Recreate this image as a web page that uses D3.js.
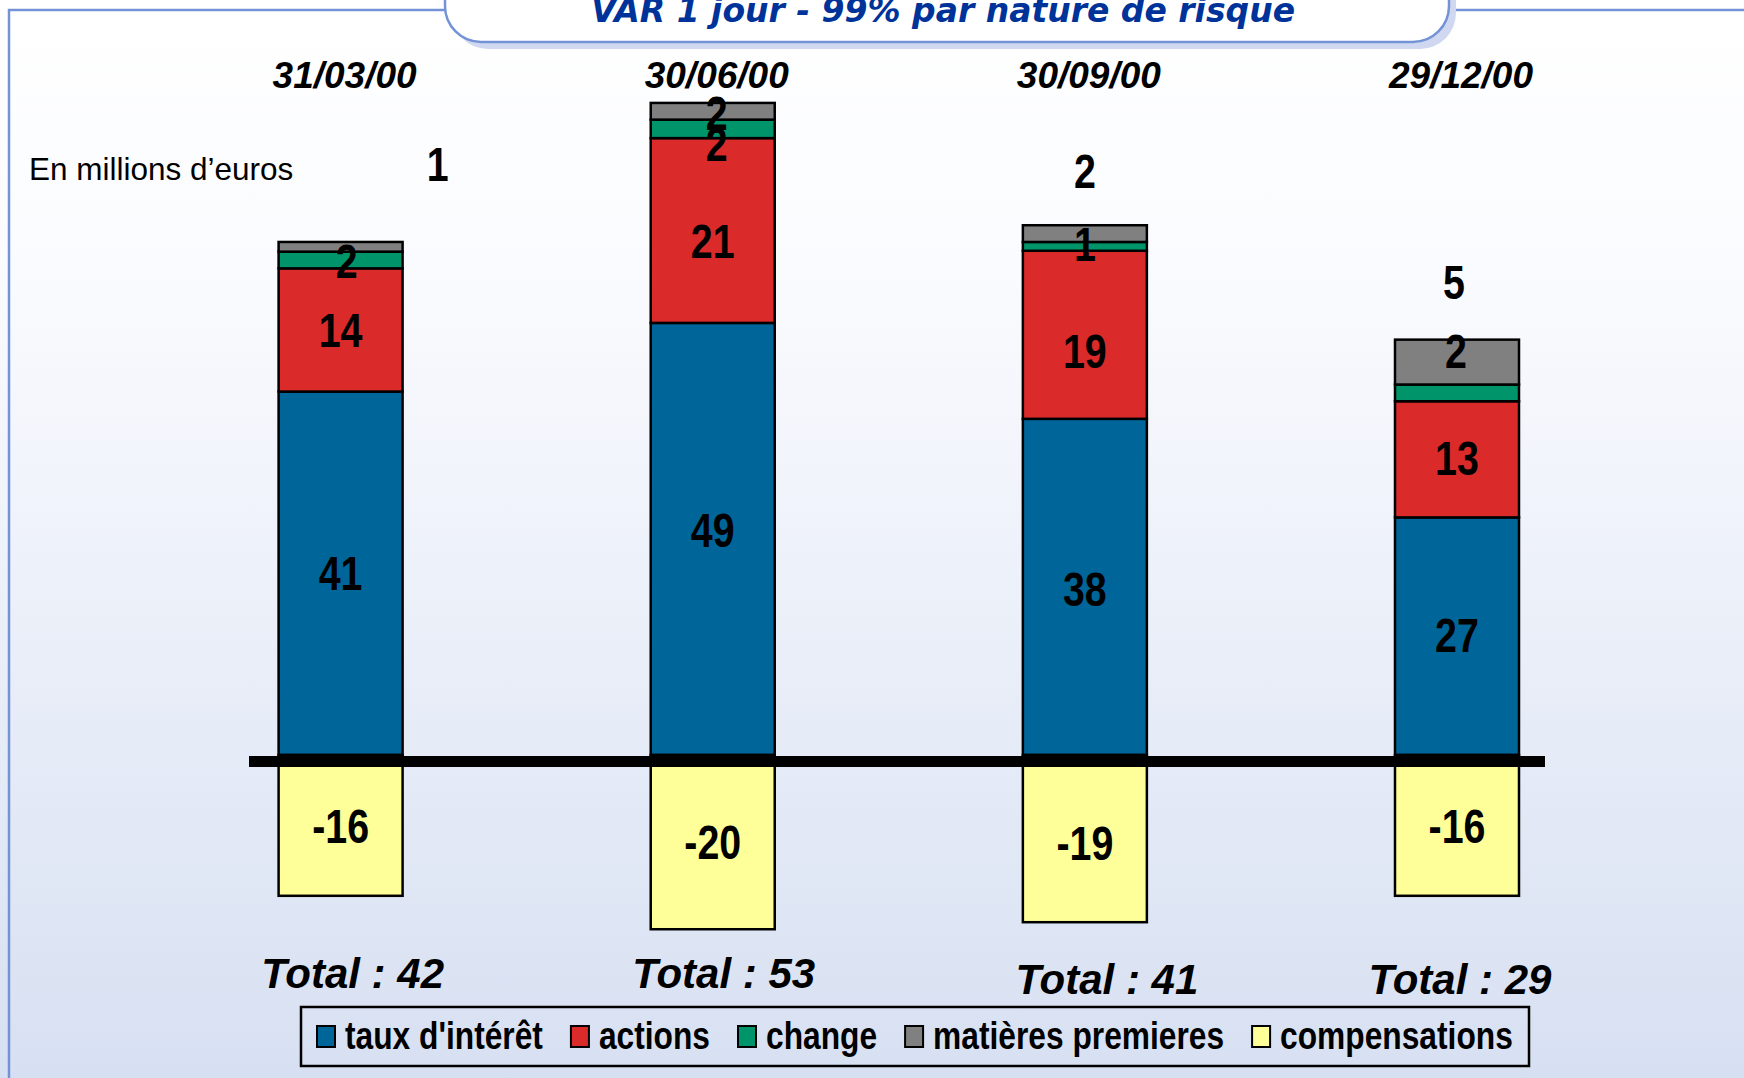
<!DOCTYPE html>
<html>
<head>
<meta charset="utf-8">
<script src="https://cdn.jsdelivr.net/npm/d3@7"></script>
<style>
  body { margin: 0; padding: 0; overflow: hidden; }
  #container { width: 1744px; height: 1078px; }
</style>
</head>
<body>
<div id="container"></div>
<script>
// VAR 1 jour - 99% par nature de risque (values in millions of euros)
let dates = ["31/03/00", "30/06/00", "30/09/00", "29/12/00"];
let tauxInteret = [41.3, 49.1, 38.2, 27.0];
let actions = [14.0, 21.0, 19.1, 13.2];
let change = [1.9, 2.1, 1.0, 1.9];
let matieres = [1.1, 1.9, 1.9, 5.1];
let compensations = [-16.0, -19.8, -19.0, -16.0];
let totals = [42, 53, 41, 29];
let seriesNames = ["taux d'intérêt", "actions", "change", "matières premieres", "compensations"];
let seriesColors = ["#006699", "#da2a2a", "#00946a", "#808080", "#ffff99"];

let w = 1744;
let h = 1078;
let narrow = 0.82; // no Arial Narrow installed, squeeze Liberation Sans instead
let narrowFont = "'Liberation Sans', Arial, sans-serif";

let viz = d3.select("#container")
  .append("svg")
    .attr("width", w)
    .attr("height", h)
;

// background gradient
let defs = viz.append("defs");
let grad = defs.append("linearGradient")
    .attr("id", "bg")
    .attr("x1", 0).attr("y1", 0).attr("x2", 0).attr("y2", 1)
;
grad.append("stop").attr("offset", "0%").attr("stop-color", "#ffffff");
grad.append("stop").attr("offset", "25%").attr("stop-color", "#fafbfe");
grad.append("stop").attr("offset", "100%").attr("stop-color", "#d7e0f2");

viz.append("rect")
    .attr("width", w).attr("height", h)
    .attr("fill", "url(#bg)")
;

// frame lines
viz.append("path")
    .attr("d", "M9," + h + " L9,10 L" + w + ",10")
    .attr("fill", "none")
    .attr("stroke", "#7393d6")
    .attr("stroke-width", 2.5)
;

// title box (shadow + rounded box running off the top)
viz.append("rect")
    .attr("x", 452).attr("y", -60)
    .attr("width", 1004).attr("height", 109)
    .attr("rx", 36).attr("ry", 36)
    .attr("fill", "#cfd8f0")
;
viz.append("rect")
    .attr("x", 445).attr("y", -60)
    .attr("width", 1004).attr("height", 102)
    .attr("rx", 36).attr("ry", 36)
    .attr("fill", "#ffffff")
    .attr("stroke", "#7393d6")
    .attr("stroke-width", 2.5)
;
viz.append("text")
    .attr("x", 943).attr("y", 22)
    .attr("text-anchor", "middle")
    .style("font-family", "'DejaVu Sans', Verdana, sans-serif")
    .style("font-weight", "bold")
    .style("font-style", "italic")
    .style("font-size", "33px")
    .attr("fill", "#003399")
    .text("VAR 1 jour - 99% par nature de risque")
;

viz.append("text")
    .attr("x", 29).attr("y", 180)
    .style("font-family", "'Liberation Sans', Arial, sans-serif")
    .style("font-size", "31.5px")
    .attr("fill", "#000")
    .text("En millions d\u2019euros")
;

// scales
let barWidth = 124;
let xScale = d3.scalePoint().domain(dates).range([340.6, 1457]);
let yScale = d3.scaleLinear().domain([-25, 60]).range([975, 227]);

// stack the positive series, negative one goes down from zero
let positive = [tauxInteret, actions, change, matieres];
let rows = dates.map((d, i) => {
  return { date: d, taux: tauxInteret[i], actions: actions[i], change: change[i], matieres: matieres[i] };
});
let keys = ["taux", "actions", "change", "matieres"];
let stacked = d3.stack().keys(keys)(rows);

let segments = [];
stacked.forEach((layer, k) => {
  layer.forEach((s, i) => {
    segments.push({ series: k, bar: i, y0: s[0], y1: s[1], value: positive[k][i] });
  });
});
compensations.forEach((v, i) => {
  segments.push({ series: 4, bar: i, y0: v, y1: 0, value: v });
});

viz.selectAll(".seg").data(segments).enter()
  .append("rect")
    .attr("class", "seg")
    .attr("x", (d) => xScale(dates[d.bar]) - barWidth / 2)
    .attr("y", (d) => yScale(d.y1))
    .attr("width", barWidth)
    .attr("height", (d) => yScale(d.y0) - yScale(d.y1))
    .attr("fill", (d) => seriesColors[d.series])
    .attr("stroke", "#000")
    .attr("stroke-width", 2.5)
;

// thick zero line
viz.append("line")
    .attr("x1", 249).attr("x2", 1545)
    .attr("y1", yScale(0) + 6.5).attr("y2", yScale(0) + 6.5)
    .attr("stroke", "#000")
    .attr("stroke-width", 11)
;

// data labels, with the manual shifts of the original slide
let labelShift = [
  [[0, 0], [0, -9], [0, 2], [0, -1]],
  [[0, 0], [0, 10], [0, 16], [0, -2]],
  [[6, 1], [4, 15], [0, -3], [-1, -42]],
  [[97, -83], [4, 2], [0, -63], [-3, -80]],
  [[0, 0], [0, 0], [0, 4], [0, 0]]
];
let labelSize = 48;
viz.selectAll(".lbl").data(segments).enter()
  .append("text")
    .attr("class", "lbl")
    .attr("transform", (d) => {
      let x = xScale(dates[d.bar]) + labelShift[d.series][d.bar][0];
      let y = (yScale(d.y0) + yScale(d.y1)) / 2 + labelSize * 0.358 + labelShift[d.series][d.bar][1];
      return "translate(" + x + "," + y + ") scale(" + narrow + ",1)";
    })
    .attr("text-anchor", "middle")
    .style("font-family", narrowFont)
    .style("font-weight", "bold")
    .style("font-size", labelSize + "px")
    .attr("fill", "#000")
    .text((d) => Math.round(d.value))
;

// dates on top
viz.selectAll(".date").data(dates).enter()
  .append("text")
    .attr("class", "date")
    .attr("x", (d) => xScale(d) + 4)
    .attr("y", 88)
    .attr("text-anchor", "middle")
    .style("font-family", "'Liberation Sans', Arial, sans-serif")
    .style("font-weight", "bold")
    .style("font-style", "italic")
    .style("font-size", "37px")
    .text((d) => d)
;

// totals
let totalShift = [[12, 0], [11, 0], [22, 6], [3, 6]];
viz.selectAll(".total").data(totals).enter()
  .append("text")
    .attr("class", "total")
    .attr("x", (d, i) => xScale(dates[i]) + totalShift[i][0])
    .attr("y", (d, i) => 988 + totalShift[i][1])
    .attr("text-anchor", "middle")
    .style("font-family", "'Liberation Sans', Arial, sans-serif")
    .style("font-weight", "bold")
    .style("font-style", "italic")
    .style("font-size", "42px")
    .text((d) => "Total : " + d)
;

// legend
viz.append("rect")
    .attr("x", 301).attr("y", 1007)
    .attr("width", 1228).attr("height", 59)
    .attr("fill", "none")
    .attr("stroke", "#000")
    .attr("stroke-width", 2.5)
;
let legendNarrow = 0.835;
let legendX = 317;
seriesNames.forEach((name, i) => {
  let item = viz.append("g").attr("transform", "translate(" + legendX + ",1037)");
  item.append("rect")
      .attr("x", 0).attr("y", -11)
      .attr("width", 18).attr("height", 21)
      .attr("fill", seriesColors[i])
      .attr("stroke", "#000")
      .attr("stroke-width", 2)
  ;
  let t = item.append("text")
      .attr("transform", "translate(28,12) scale(" + legendNarrow + ",1)")
      .style("font-family", narrowFont)
      .style("font-weight", "bold")
      .style("font-size", "38px")
      .text(name)
  ;
  legendX += 28 + t.node().getComputedTextLength() * legendNarrow + 28;
});
</script>
</body>
</html>
